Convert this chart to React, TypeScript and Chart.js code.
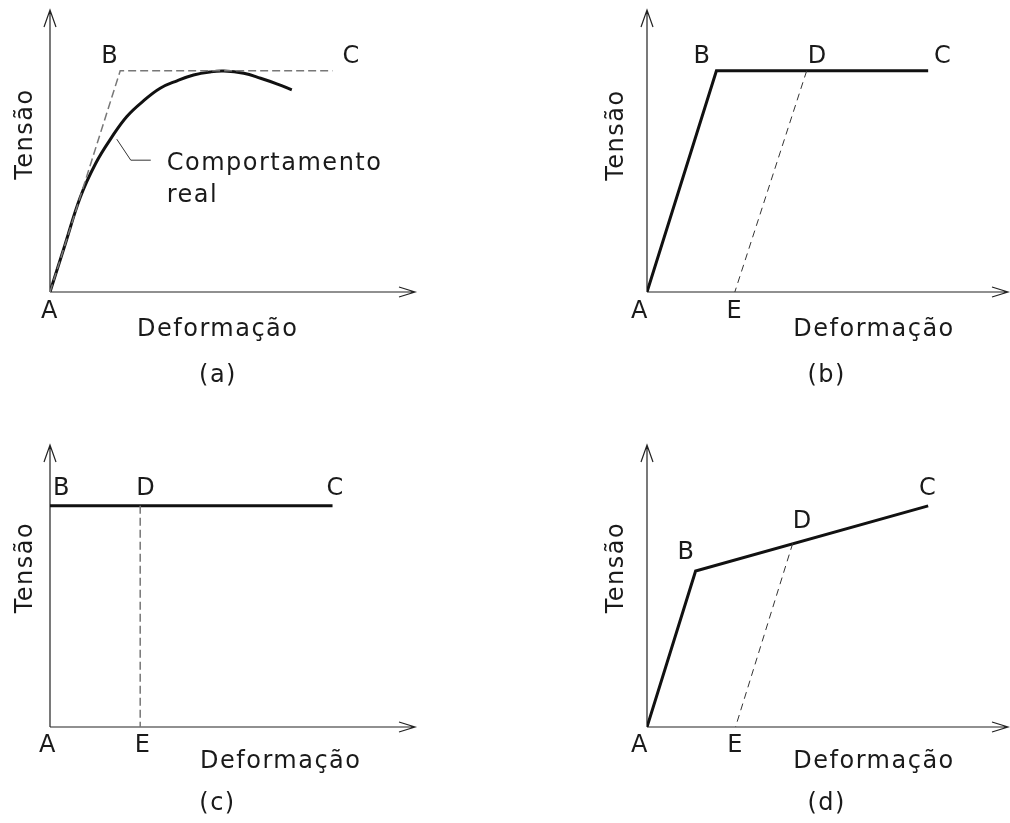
import React, { useEffect, useRef } from "react";
import { Chart, registerables } from "chart.js";

Chart.register(...registerables);

// Common axis extents (strain on x, stress on y, arbitrary units)
const X_MAX = 10.4;
const Y_MAX = 10.2;

// (a) idealised elastic–perfectly plastic envelope vs. real behaviour
const aIdealX = [0, 2.0, 8.05];
const aIdealY = [0, 8.0, 8.0];
const aRealX = [0, 0.43, 0.86, 1.3, 1.76, 2.19, 2.67, 3.14, 3.62, 4.09, 4.57, 4.95, 5.52, 6.0, 6.48, 6.89];
const aRealY = [0, 1.72, 3.42, 4.65, 5.6, 6.35, 6.92, 7.37, 7.64, 7.85, 7.96, 7.99, 7.91, 7.73, 7.52, 7.31];

// (b) elastic–perfectly plastic with unloading D→E
const bLoadX = [0, 2.0, 8.1];
const bLoadY = [0, 8.0, 8.0];
const bUnloadX = [4.6, 2.53];
const bUnloadY = [8.0, 0];

// (c) rigid–perfectly plastic with unloading D→E
const cLoadX = [0, 8.05];
const cLoadY = [8.0, 8.0];
const cUnloadX = [2.57, 2.57];
const cUnloadY = [8.0, 0];

// (d) elastic with linear hardening, unloading D→E
const dLoadX = [0, 1.4, 8.1];
const dLoadY = [0, 5.64, 8.0];
const dUnloadX = [4.2, 2.55];
const dUnloadY = [6.65, 0];

// Texts
const X_TITLE = "Deformação";
const Y_TITLE = "Tensão";
const REAL_NOTE = ["Comportamento", "real"];
const CAPTIONS = ["(a)", "(b)", "(c)", "(d)"];

const FONT = '24px "DejaVu Sans", sans-serif';
const TEXT_COLOR = "#1a1a1a";

type Series = {
  x: number[];
  y: number[];
  kind: "solid" | "dashGray" | "dashThin";
  smooth?: boolean;
};

type PointLabel = { text: string; x: number; y: number; dx: number; dy: number };

type Panel = {
  left: number;
  top: number;
  width: number;
  height: number;
  padding: { left: number; top: number; right: number; bottom: number };
  series: Series[];
  labels: PointLabel[];
  xTitle: { x: number; y: number };
  yTitle: { x: number; y: number };
  caption: { text: string; x: number; y: number };
  note?: boolean;
};

const panels: Panel[] = [
  {
    left: 0,
    top: 0,
    width: 505,
    height: 411,
    padding: { left: 50, top: 10, right: 90, bottom: 119 },
    series: [
      { x: aIdealX, y: aIdealY, kind: "dashGray" },
      { x: aRealX, y: aRealY, kind: "solid", smooth: true },
    ],
    labels: [
      { text: "A", x: aIdealX[0], y: aIdealY[0], dx: 0, dy: 26 },
      { text: "B", x: aIdealX[1], y: aIdealY[1], dx: -10, dy: -8 },
      { text: "C", x: aIdealX[2], y: aIdealY[2], dx: 19, dy: -8 },
    ],
    xTitle: { x: 137, y: 336 },
    yTitle: { x: 31.7, y: 134 },
    caption: { text: CAPTIONS[0], x: 218, y: 382 },
    note: true,
  },
  {
    left: 505,
    top: 0,
    width: 505,
    height: 411,
    padding: { left: 142, top: 10, right: 2, bottom: 119 },
    series: [
      { x: bUnloadX, y: bUnloadY, kind: "dashThin" },
      { x: bLoadX, y: bLoadY, kind: "solid" },
    ],
    labels: [
      { text: "A", x: bLoadX[0], y: bLoadY[0], dx: -7, dy: 26 },
      { text: "B", x: bLoadX[1], y: bLoadY[1], dx: -14, dy: -8 },
      { text: "D", x: bUnloadX[0], y: bUnloadY[0], dx: 11, dy: -8 },
      { text: "C", x: bLoadX[2], y: bLoadY[2], dx: 15, dy: -8 },
      { text: "E", x: bUnloadX[1], y: bUnloadY[1], dx: 0, dy: 26 },
    ],
    xTitle: { x: 288.3, y: 336 },
    yTitle: { x: 118.3, y: 135 },
    caption: { text: CAPTIONS[1], x: 321.7, y: 382 },
  },
  {
    left: 0,
    top: 411,
    width: 505,
    height: 412,
    padding: { left: 50, top: 34, right: 90, bottom: 96 },
    series: [
      { x: cUnloadX, y: cUnloadY, kind: "dashGray" },
      { x: cLoadX, y: cLoadY, kind: "solid" },
    ],
    labels: [
      { text: "A", x: 0, y: 0, dx: -2, dy: 25 },
      { text: "B", x: cLoadX[0], y: cLoadY[0], dx: 12, dy: -11 },
      { text: "D", x: cUnloadX[0], y: cUnloadY[0], dx: 6, dy: -11 },
      { text: "C", x: cLoadX[1], y: cLoadY[1], dx: 3, dy: -11 },
      { text: "E", x: cUnloadX[1], y: cUnloadY[1], dx: 3, dy: 25 },
    ],
    xTitle: { x: 200, y: 357.3 },
    yTitle: { x: 31.7, y: 156.5 },
    caption: { text: CAPTIONS[2], x: 217.5, y: 399 },
  },
  {
    left: 505,
    top: 411,
    width: 505,
    height: 412,
    padding: { left: 142, top: 34, right: 2, bottom: 96 },
    series: [
      { x: dUnloadX, y: dUnloadY, kind: "dashThin" },
      { x: dLoadX, y: dLoadY, kind: "solid" },
    ],
    labels: [
      { text: "A", x: dLoadX[0], y: dLoadY[0], dx: -7, dy: 25 },
      { text: "B", x: dLoadX[1], y: dLoadY[1], dx: -9, dy: -12 },
      { text: "D", x: dUnloadX[0], y: dUnloadY[0], dx: 10, dy: -15 },
      { text: "C", x: dLoadX[2], y: dLoadY[2], dx: 0, dy: -11 },
      { text: "E", x: dUnloadX[1], y: dUnloadY[1], dx: 0, dy: 25 },
    ],
    xTitle: { x: 288.3, y: 357.3 },
    yTitle: { x: 118.3, y: 156.5 },
    caption: { text: CAPTIONS[3], x: 321.7, y: 399 },
  },
];

function styleFor(kind: Series["kind"]) {
  if (kind === "solid") return { borderColor: "#111", borderWidth: 3, borderDash: [] as number[] };
  if (kind === "dashGray") return { borderColor: "#777", borderWidth: 1.5, borderDash: [8, 4] };
  return { borderColor: "#333", borderWidth: 1, borderDash: [7, 5] };
}

function makeDecorations(panel: Panel) {
  return {
    id: "decorations",
    beforeDatasetsDraw(chart: Chart) {
      const { ctx, chartArea } = chart;
      const xs = chart.scales.x;
      const ys = chart.scales.y;
      const ox = xs.getPixelForValue(0);
      const oy = ys.getPixelForValue(0);
      const tipX = chartArea.right;
      const tipY = chartArea.top;
      ctx.save();
      ctx.strokeStyle = "#222";
      ctx.lineWidth = 1.2;
      ctx.beginPath();
      // axes
      ctx.moveTo(ox, oy);
      ctx.lineTo(tipX, oy);
      ctx.moveTo(ox, oy);
      ctx.lineTo(ox, tipY);
      // open arrowheads
      ctx.moveTo(tipX - 16, oy - 5);
      ctx.lineTo(tipX, oy);
      ctx.lineTo(tipX - 16, oy + 5);
      ctx.moveTo(ox - 6, tipY + 17);
      ctx.lineTo(ox, tipY);
      ctx.lineTo(ox + 6, tipY + 17);
      ctx.stroke();
      ctx.restore();
    },
    afterDraw(chart: Chart) {
      const { ctx } = chart;
      const xs = chart.scales.x;
      const ys = chart.scales.y;
      ctx.save();
      ctx.fillStyle = TEXT_COLOR;
      ctx.font = FONT;
      (ctx as any).letterSpacing = "1.5px";
      ctx.textBaseline = "alphabetic";

      // point letters
      ctx.textAlign = "center";
      for (const l of panel.labels) {
        ctx.fillText(l.text, xs.getPixelForValue(l.x) + l.dx, ys.getPixelForValue(l.y) + l.dy);
      }

      // axis titles
      ctx.textAlign = "left";
      ctx.fillText(X_TITLE, panel.xTitle.x, panel.xTitle.y);
      ctx.save();
      ctx.translate(panel.yTitle.x, panel.yTitle.y);
      ctx.rotate(-Math.PI / 2);
      ctx.textAlign = "center";
      ctx.fillText(Y_TITLE, 0, 0);
      ctx.restore();

      // caption
      ctx.textAlign = "center";
      ctx.fillText(panel.caption.text, panel.caption.x, panel.caption.y);

      // leader and note for the real curve
      if (panel.note) {
        const ax = xs.getPixelForValue(aRealX[4]);
        const ay = ys.getPixelForValue(aRealY[4]);
        ctx.strokeStyle = "#333";
        ctx.lineWidth = 1;
        ctx.beginPath();
        ctx.moveTo(ax + 5, ay + 2);
        ctx.lineTo(ax + 19, ay + 23);
        ctx.lineTo(ax + 39, ay + 23);
        ctx.stroke();
        ctx.textAlign = "left";
        ctx.fillText(REAL_NOTE[0], ax + 55, ay + 33);
        ctx.fillText(REAL_NOTE[1], ax + 55, ay + 64.5);
      }
      ctx.restore();
    },
  };
}

function PanelChart({ panel }: { panel: Panel }) {
  const ref = useRef<HTMLCanvasElement | null>(null);
  useEffect(() => {
    if (!ref.current) return;
    const chart = new Chart(ref.current, {
      type: "scatter",
      data: {
        datasets: panel.series.map((s) => ({
          data: s.x.map((x, i) => ({ x, y: s.y[i] })),
          showLine: true,
          pointRadius: 0,
          fill: false,
          tension: s.smooth ? 0.4 : 0,
          borderCapStyle: "butt",
          borderJoinStyle: "miter",
          ...styleFor(s.kind),
        })),
      },
      options: {
        responsive: false,
        animation: false,
        devicePixelRatio: 1,
        events: [],
        layout: { padding: panel.padding },
        scales: {
          x: { type: "linear", min: 0, max: X_MAX, display: false },
          y: { type: "linear", min: 0, max: Y_MAX, display: false },
        },
        plugins: { legend: { display: false }, tooltip: { enabled: false } },
      },
      plugins: [makeDecorations(panel)],
    } as any);
    return () => chart.destroy();
  }, [panel]);
  return (
    <canvas
      ref={ref}
      width={panel.width}
      height={panel.height}
      style={{ position: "absolute", left: panel.left, top: panel.top, width: panel.width, height: panel.height }}
    />
  );
}

export default function App() {
  return (
    <div style={{ position: "fixed", left: 0, top: 0, width: 1010, height: 823, background: "#fff" }}>
      {panels.map((p, i) => (
        <PanelChart key={i} panel={p} />
      ))}
    </div>
  );
}
